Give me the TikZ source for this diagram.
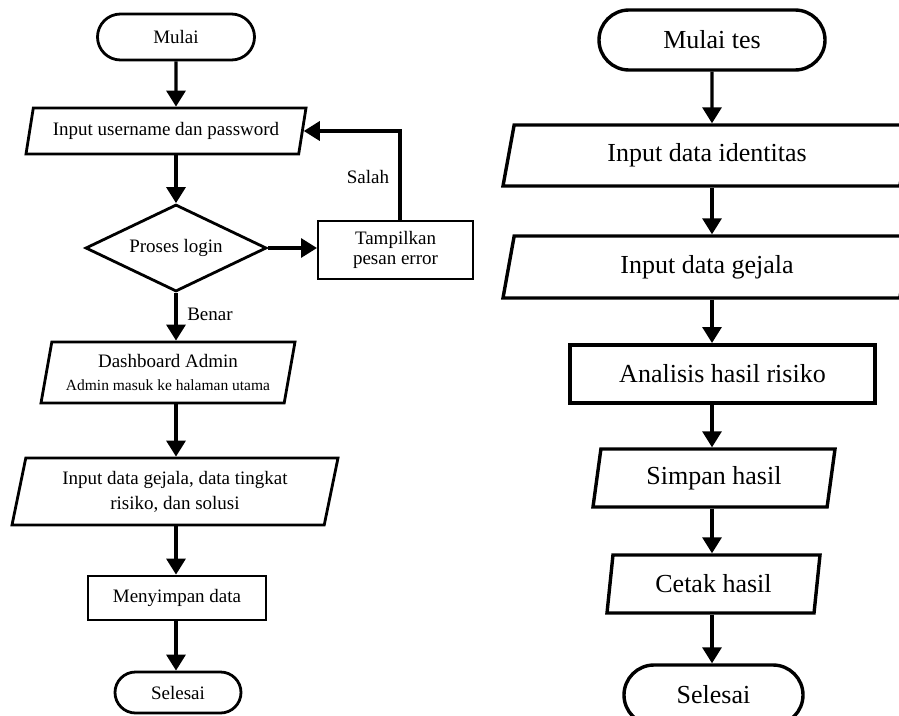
\documentclass[tikz,border=0pt]{standalone}
\usepackage{fontspec}
\setmainfont{Liberation Serif}
\usetikzlibrary{shapes.geometric,shapes.misc,arrows.meta,positioning}

\tikzset{
  box/.style={draw, line width=2.8pt, align=center, inner sep=2pt,
    font=\fontsize{19}{22}\selectfont},
  bigbox/.style={box, line width=3.4pt, font=\fontsize{26}{30}\selectfont},
  terminal/.style={rounded rectangle},
  io/.style 2 args={trapezium, trapezium stretches body,
    trapezium left angle=#1, trapezium right angle=#2},
  decision/.style={diamond, aspect=2},
  arr/.style={line width=3.2pt, -{Triangle[width=19pt,length=16pt]}},
  lbl/.style={font=\fontsize{19}{22}\selectfont}
}

\begin{document}
\begin{tikzpicture}[x=1pt, y=-1pt]
  \useasboundingbox (0,0) rectangle (899,715);
  \fill[white] (0,0) rectangle (899,715);

  % login admin
  \node[box, terminal, minimum width=161, minimum height=46] (mulai) at (176,37) {Mulai};
  \node[box, io={71}{109}, minimum width=280, minimum height=46] (inputlogin) at (166,131)
    {Input username dan password};
  \node[box, decision, minimum width=181, minimum height=87] (login) at (176,248) {Proses login};
  \node[box, line width=2pt, minimum width=155, minimum height=58] (error) at (395.5,250)
    {Tampilkan\\[-2pt]pesan error};
  \node[box, io={75}{105}, minimum width=254, minimum height=61] (dashboard) at (168,372.5)
    {Dashboard Admin\\[1pt]{\fontsize{15.5}{18}\selectfont Admin masuk ke halaman utama}};
  \node[box, io={73}{107}, minimum width=326, minimum height=67] (inputgejala) at (175,491.5)
    {Input data gejala, data tingkat\\[3pt]risiko, dan solusi};
  \node[box, minimum width=178, minimum height=44] (simpan) at (177,598) {Menyimpan data};
  \node[box, terminal, minimum width=130, minimum height=41] (selesai) at (178,692.5) {Selesai};

  \node[lbl] (salah) at (368,177) {Salah};
  \node[lbl] (benar) at (210,314) {Benar};

  \draw[arr] (mulai) -- (mulai |- inputlogin.north);
  \draw[arr] (login.north |- inputlogin.south) -- (login.north);
  \draw[arr] (login.east) -- (login.east -| error.west);
  \draw[arr] ([xshift=4.5pt]error.north) |- (inputlogin.east);
  \draw[arr] (login.south) -- (login.south |- dashboard.north);
  \draw[arr] (login.south |- dashboard.south) -- (login.south |- inputgejala.north);
  \draw[arr] (login.south |- inputgejala.south) -- (login.south |- simpan.north);
  \draw[arr] (login.south |- simpan.south) -- (login.south |- selesai.north);

  % tes risiko
  \node[bigbox, terminal, minimum width=230, minimum height=60] (mulaites) at (712,40) {Mulai tes};
  \node[bigbox, io={68}{112}, minimum width=408, minimum height=61] (identitas) at (707,155.5)
    {Input data identitas};
  \node[bigbox, io={68}{112}, minimum width=408, minimum height=62] (gejala) at (707,267)
    {Input data gejala};
  \node[bigbox, line width=4pt, minimum width=305, minimum height=58] (analisis) at (722.5,374)
    {Analisis hasil risiko};
  \node[bigbox, io={74}{106}, minimum width=242, minimum height=58] (simpanhasil) at (714,478)
    {Simpan hasil};
  \node[bigbox, io={75}{105}, minimum width=213, minimum height=58] (cetak) at (713.5,584)
    {Cetak hasil};
  \node[bigbox, terminal, minimum width=183, minimum height=60] (selesaites) at (713.5,695)
    {Selesai};

  \draw[arr] (mulaites) -- (mulaites |- identitas.north);
  \draw[arr] (mulaites |- identitas.south) -- (mulaites |- gejala.north);
  \draw[arr] (mulaites |- gejala.south) -- (mulaites |- analisis.north);
  \draw[arr] (mulaites |- analisis.south) -- (mulaites |- simpanhasil.north);
  \draw[arr] (mulaites |- simpanhasil.south) -- (mulaites |- cetak.north);
  \draw[arr] (mulaites |- cetak.south) -- (mulaites |- selesaites.north);
\end{tikzpicture}
\end{document}
